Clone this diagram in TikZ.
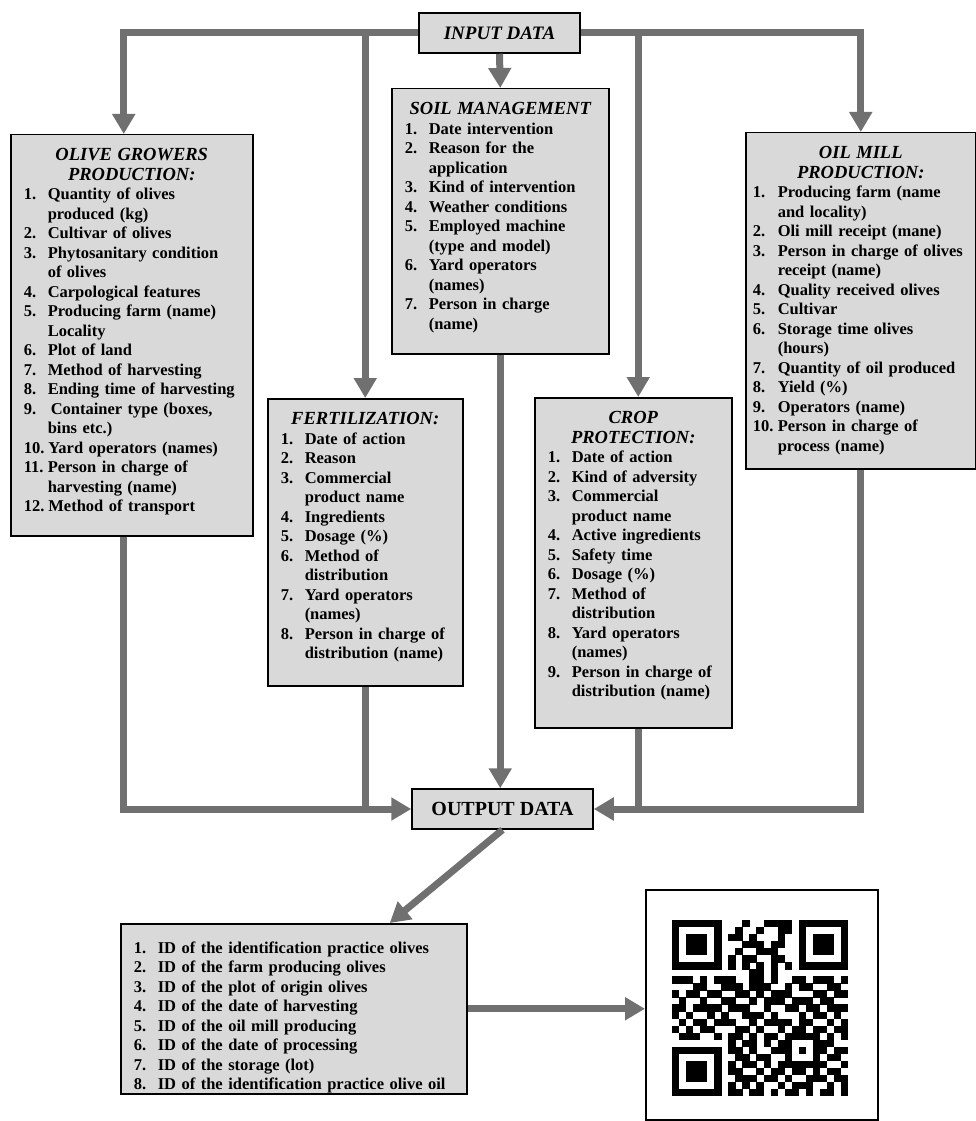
\documentclass[tikz,border=0pt]{standalone}
\usepackage{fontspec}
\setmainfont{Liberation Serif}
\usepackage{enumitem}
\usetikzlibrary{arrows.meta}
\definecolor{boxgray}{RGB}{217,217,217}
\definecolor{linkgray}{RGB}{112,112,112}
\setlist[enumerate]{label=\arabic*.,leftmargin=24pt,labelwidth=20pt,labelsep=4pt,align=left,nosep}
\newcommand\ttl{\fontsize{18.5}{19.5}\selectfont\bfseries\itshape}
\newcommand\qrrow[2]{\def\qry{#1}\def\qrx{0}\expandafter\qrscan#2\relax}
\newcommand\qrscan[1]{\ifx\relax#1\else\ifx1#1\fill (672+\qrx*7.04,920+\qry*7.04) rectangle ++(7.3,7.3);\fi\pgfmathtruncatemacro\qrx{\qrx+1}\expandafter\qrscan\fi}
\tikzstyle{databox}=[
        rectangle,
        draw,
        fill=boxgray,
        line width=1.5pt,
        minimum height=40pt,
        inner sep=0pt
]
\tikzstyle{listbox}=[
        rectangle,
        draw,
        fill=boxgray,
        line width=1.5pt,
        anchor=north west,
        align=left,
        inner xsep=13pt,
        inner ysep=12pt,
        text height=14pt,
        font=\fontsize{16.5}{19.5}\selectfont\bfseries
]
\tikzstyle{feed}=[draw=linkgray,line width=7pt,line join=miter]
\tikzstyle{link}=[feed,-{Triangle[width=22pt,length=20pt]}]

\begin{document}
\begin{tikzpicture}[x=1pt,y=-1pt]
\useasboundingbox (0,0) rectangle (976,1121);
\node[databox,minimum width=161pt] (input) at (499.5,33) {\fontsize{19}{21}\selectfont\bfseries\itshape INPUT DATA};
\node[listbox,text width=191pt,text depth=227pt] (soil) at (391,88) {{\centering\ttl SOIL MANAGEMENT\par}
\begin{enumerate}
\item Date intervention
\item Reason for the\\application
\item Kind of intervention
\item Weather conditions
\item Employed machine\\(type and model)
\item Yard operators\\(names)
\item Person in charge\\(name)
\end{enumerate}};
\node[listbox,text width=216pt,text depth=363pt] (olive) at (10,134) {{\centering\ttl OLIVE GROWERS\\PRODUCTION:\par}
\begin{enumerate}
\item Quantity of olives\\produced (kg)
\item Cultivar of olives
\item Phytosanitary condition\\of olives
\item Carpological features
\item Producing farm (name)\\Locality
\item Plot of land
\item Method of harvesting
\item Ending time of harvesting
\item \hspace{3pt}Container type (boxes,\\bins etc.)
\item Yard operators (names)
\item Person in charge of\\harvesting (name)
\item Method of transport
\end{enumerate}};
\node[listbox,inner xsep=7pt,text width=216pt,text depth=298pt] (oil) at (745,132) {{\centering\ttl OIL MILL\\PRODUCTION:\par}
\begin{enumerate}[leftmargin=25pt,labelwidth=21pt]
\item Producing farm (name\\and locality)
\item Oli mill receipt (mane)
\item Person in charge of olives\\receipt (name)
\item Quality received olives
\item Cultivar
\item Storage time olives\\(hours)
\item Quantity of oil produced
\item Yield (\%)
\item Operators (name)
\item Person in charge of\\process (name)
\end{enumerate}};
\node[listbox,text width=169pt,text depth=249pt] (fert) at (267,398) {{\centering\ttl FERTILIZATION:\par}
\begin{enumerate}
\item Date of action
\item Reason
\item Commercial\\product name
\item Ingredients
\item Dosage (\%)
\item Method of\\distribution
\item Yard operators\\(names)
\item Person in charge of\\distribution (name)
\end{enumerate}};
\node[listbox,text width=171pt,text depth=292pt] (crop) at (534,397) {{\centering\ttl CROP\\PROTECTION:\par}
\begin{enumerate}
\item Date of action
\item Kind of adversity
\item Commercial\\product name
\item Active ingredients
\item Safety time
\item Dosage (\%)
\item Method of\\distribution
\item Yard operators\\(names)
\item Person in charge of\\distribution (name)
\end{enumerate}};
\node[databox,minimum width=181pt] (output) at (502.5,809) {\fontsize{20}{22}\selectfont\bfseries OUTPUT DATA};
\node[listbox,inner ysep=10pt,text height=0pt,text width=320pt,text depth=150pt] (ids) at (120,923) {\begin{enumerate}
\item ID of the identification practice olives
\item ID of the farm producing olives
\item ID of the plot of origin olives
\item ID of the date of harvesting
\item ID of the oil mill producing
\item ID of the date of processing
\item ID of the storage (lot)
\item ID of the identification practice olive oil
\end{enumerate}};
\node[rectangle,draw,fill=white,line width=1.5pt,anchor=north west,minimum width=232pt,minimum height=230pt] (qrbox) at (645,889) {};
% QR code
\foreach \qline [count=\qi from 0] in {
1111111000100111101111111,1000001001001001101000001,1011101011010001001011101,
1011101000111011001011101,1011101001001110001011101,1000001010110011001000001,
1111111010101010101111111,0000000000011010000000000,1110101110011010011011101,
0001100111011100101100110,1011011001101011100011011,0100100110010111011101100,
1101111011100100110110111,1010010100111010001011010,0101101110010111101100101,
1010110001101001011011011,0111001011010110111110101,0000000010110101100011100,
1111111011010011101011011,1000001001101100100010110,1011101010110101111111001,
1011101011001011011010110,1011101001110110100111011,1000001010101001011100101,
1111111011011010110101101}
  {\qrrow{\qi}{\qline}}
%connectors
\draw[link] (input.south) -- (soil.north);
\draw[link] (input.west) -| ([xshift=-8pt]olive.north);
\draw[link] (input.west) -| (fert.north);
\draw[link] (input.east) -| (oil.north);
\draw[link] (input.east) -| ([xshift=5pt]crop.north);
\draw[link] ([xshift=-8pt]olive.south) |- (output.west);
\draw[feed] (fert.south) -- (fert.south |- output.west);
\draw[link] (soil.south) -- (soil.south |- output.north);
\draw[feed] ([xshift=5pt]crop.south) -- ([xshift=5pt]crop.south |- output.east);
\draw[link] (oil.south) |- (output.east);
\draw[link] (output.south) -- ([xshift=96pt]ids.north);
\draw[link] (ids.east) -- (ids.east -| qrbox.west);
\end{tikzpicture}
\end{document}
